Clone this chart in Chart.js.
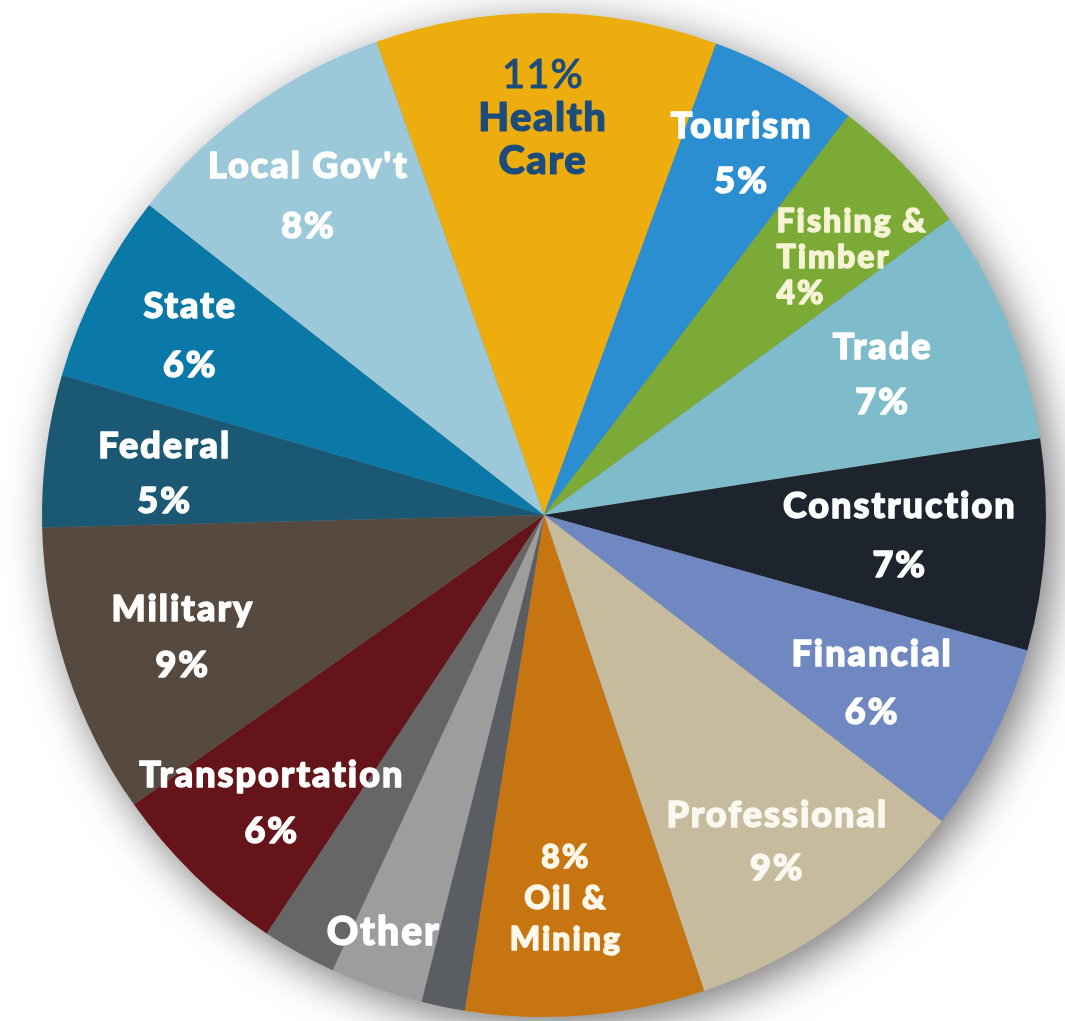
<!DOCTYPE html>
<html>
<head>
<meta charset="utf-8">
<script src="https://cdn.jsdelivr.net/npm/chart.js@4.4.1/dist/chart.umd.min.js"></script>
<style>
  html, body { margin: 0; padding: 0; background: #fff; }
  #wrap { width: 1065px; height: 1021px; }
</style>
</head>
<body>
<div id="wrap"><canvas id="myPieChart"></canvas></div>
<script>
// slices, clockwise starting with Health Care at the top
const sectors = ["Health Care", "Tourism", "Fishing & Timber", "Trade", "Construction", "Financial",
  "Professional", "Oil & Mining", "Other", "Other", "Other", "Transportation", "Military",
  "Federal", "State", "Local Gov't"];
// share of the pie (%)
const shares = [11.0, 4.8, 4.6, 7.6, 6.8, 6.1, 9.4, 7.7, 1.4, 3.0, 2.4, 5.9, 9.4, 4.9, 6.1, 9.0];
// text printed inside each slice
const sliceText = [
  ["11%", "Health", "Care"], ["Tourism", "5%"], ["Fishing &", "Timber", "4%"], ["Trade", "7%"],
  ["Construction", "7%"], ["Financial", "6%"], ["Professional", "9%"], ["8%", "Oil &", "Mining"],
  [], ["Other"], [], ["Transportation", "6%"], ["Military", "9%"], ["Federal", "5%"],
  ["State", "6%"], ["Local Gov't", "8%"]
];

const colors = ["#EEAD0E", "#2A8ED0", "#7BAA36", "#7FBCCB", "#1D242D", "#7088C2", "#C7BB9E", "#C77510",
  "#5A5E63", "#9D9D9D", "#666666", "#65151A", "#564A40", "#1A5874", "#0B79A8", "#9BC9D9"];

// where the text sits: fraction of radius, shift from mid angle (deg), line gap, font size
const labelRadius = [0.79, 0.82, 0.80, 0.73, 0.71, 0.735, 0.80, 0.766, 0, 0.89, 0, 0.79, 0.76, 0.76, 0.79, 0.79];
const labelShift = [-0.45, 0, 4.5, 0, 0, 0.6, 0, 1.5, 0, 1.5, 0, -0.8, -0.45, -1.25, -0.3, -0.75];
const lineGap = [43, 55, 36, 55, 59, 58, 53, 41, 0, 0, 0, 56, 56, 55, 59, 60];
const labelSize = [40, 36, 32, 36, 36, 36, 36, 32, 0, 39, 0, 36, 36, 36, 36, 36];

const FONT = "Lato, 'Open Sans', sans-serif";

// soft drop shadow under the whole pie
const pieShadow = {
  id: "pieShadow",
  beforeDatasetsDraw(chart) {
    const arc = chart.getDatasetMeta(0).data[0];
    if (!arc) return;
    const ctx = chart.ctx;
    ctx.save();
    ctx.shadowColor = "rgba(0,0,0,0.55)";
    ctx.shadowBlur = 45;
    ctx.shadowOffsetX = 9;
    ctx.shadowOffsetY = 11;
    ctx.fillStyle = "#888";
    ctx.beginPath();
    ctx.arc(arc.x, arc.y, arc.outerRadius - 1, 0, Math.PI * 2);
    ctx.fill();
    ctx.restore();
  }
};

// labels drawn inside slices (a thin stroke in the same colour makes them heavier)
const sliceLabels = {
  id: "sliceLabels",
  afterDatasetsDraw(chart) {
    const ctx = chart.ctx;
    const meta = chart.getDatasetMeta(0);
    meta.data.forEach(function (arc, i) {
      const lines = sliceText[i];
      if (!lines.length) return;
      const p = arc.getProps(["x", "y", "startAngle", "endAngle", "outerRadius"], true);
      const a = (p.startAngle + p.endAngle) / 2 + labelShift[i] * Math.PI / 180;
      const r = p.outerRadius * labelRadius[i];
      const cx = p.x + Math.cos(a) * r;
      const cy = p.y + Math.sin(a) * r;
      const size = labelSize[i];
      ctx.save();
      ctx.textBaseline = "middle";
      ctx.lineJoin = "round";
      let color = "#ffffff";
      if (i === 2) color = "#F6F3D6";
      if (i === 6) color = "#FAF8F0";
      if (i === 7) color = "#FFF7EA";
      ctx.letterSpacing = "2px";
      let left = null;
      if (i === 2) {
        ctx.font = "900 " + size + "px " + FONT;
        const w = Math.max.apply(null, lines.map(function (l) { return ctx.measureText(l).width; }));
        left = cx - w / 2;
      }
      const top = cy - (lines.length - 1) * lineGap[i] / 2;
      lines.forEach(function (line, k) {
        let weight = "900";
        let stroke = 1.4;
        if (i === 0) {
          color = "#1C4C7C";
          weight = k === 0 ? "500" : "900";
          stroke = k === 0 ? 0.9 : 1.2;
          ctx.letterSpacing = k === 0 ? "1px" : "1.5px";
        }
        ctx.font = weight + " " + size + "px " + FONT;
        ctx.fillStyle = color;
        ctx.strokeStyle = color;
        ctx.lineWidth = stroke;
        const x = left !== null ? left : cx;
        ctx.textAlign = left !== null ? "left" : "center";
        const y = top + k * lineGap[i];
        ctx.fillText(line, x, y);
        if (stroke > 0) ctx.strokeText(line, x, y);
      });
      ctx.restore();
    });
  }
};

document.addEventListener('DOMContentLoaded', function () {
  const ctx = document.getElementById("myPieChart").getContext("2d");
  new Chart(ctx, {
    type: "pie",
    data: {
      labels: sectors,
      datasets: [{
        data: shares,
        backgroundColor: colors,
        borderWidth: 0,
        hoverOffset: 0
      }]
    },
    options: {
      responsive: true,
      maintainAspectRatio: false,
      animation: false,
      rotation: -19.5,
      layout: { padding: { top: 13, bottom: 4, left: 42, right: 19 } },
      plugins: {
        legend: { display: false },
        tooltip: { enabled: false }
      }
    },
    plugins: [pieShadow, sliceLabels]
  });
});
</script>
</body>
</html>
